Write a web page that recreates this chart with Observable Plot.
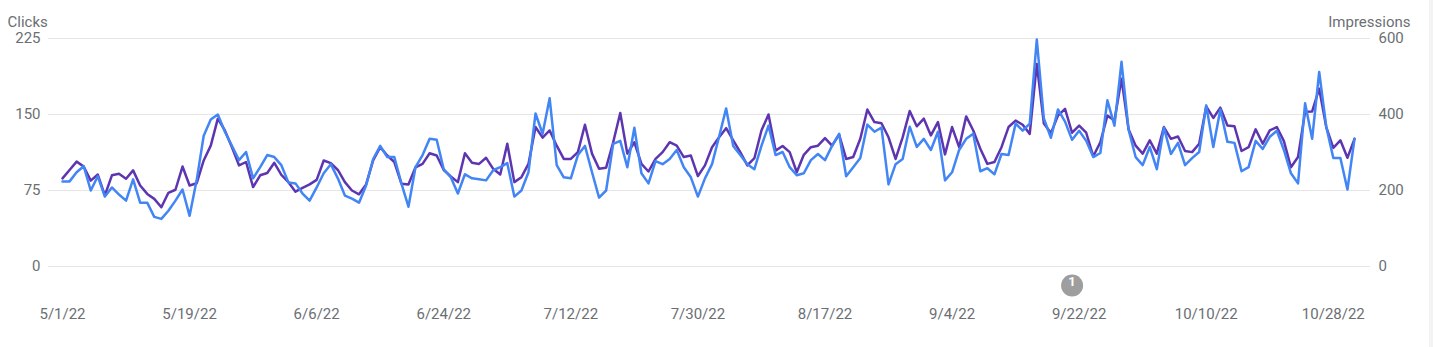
<!DOCTYPE html>
<html><head><meta charset="utf-8">
<script src="https://cdn.jsdelivr.net/npm/d3@7"></script>
<script src="https://cdn.jsdelivr.net/npm/@observablehq/plot@0.6"></script>
<style>
body{margin:0;background:#fff;font-family:Roboto,sans-serif;}
#chart{position:relative;width:1433px;height:347px;overflow:hidden;}
#edge{position:absolute;left:1429px;top:0;width:4px;height:347px;background:#f3f3f3;}
</style></head><body><div id="chart"><div id="edge"></div></div>
<script>
const startDate = "2022-05-01";
const endDate = "2022-10-31";
const clicks = [84,84,93,99,75,89,69,78,71,65,86,63,63,49,47,55,65,76,50,85,
129,145,150,133,119,105,113,87,98,110,108,100,83,82,72,65,78,92,101,87,
70,67,63,80,106,119,108,108,82,59,98,110,126,125,96,88,72,91,87,86,
85,95,98,102,69,75,93,151,131,166,100,88,87,110,119,93,68,75,121,124,
98,137,92,82,104,101,106,115,98,88,69,87,101,128,156,119,110,101,96,119,
139,110,113,98,90,92,105,111,105,119,131,89,98,107,140,133,137,81,101,106,
138,118,126,115,133,85,93,115,126,131,94,97,91,111,110,141,134,141,224,146,
127,155,143,125,134,124,108,112,164,139,202,135,108,100,118,96,137,111,122,100,
107,113,159,118,155,123,122,94,98,124,116,128,134,115,92,82,161,126,192,138,
107,107,76,126];
const impressions = [232,254,276,263,226,242,187,240,244,231,253,213,191,178,156,194,202,263,213,219,
279,318,389,358,314,266,275,209,240,246,273,241,222,197,207,216,228,279,272,254,
222,200,190,216,279,314,292,275,218,216,261,270,298,292,254,237,222,298,273,270,
286,257,242,323,222,235,270,367,339,358,318,283,283,301,373,297,257,260,327,404,
297,327,270,250,283,301,327,318,288,292,238,266,314,340,364,332,301,266,285,358,
400,305,317,301,248,294,314,318,338,318,347,283,288,336,413,380,377,340,283,340,
409,369,389,345,380,295,367,314,395,358,310,270,275,314,367,384,373,349,533,376,
351,397,415,352,371,352,290,327,397,384,494,361,318,297,332,297,367,336,342,304,
301,323,421,391,418,371,369,304,314,361,323,358,367,330,261,288,407,408,468,367,
312,332,286,336];
const xTickLabels = ["5/1/22","5/19/22","6/6/22","6/24/22","7/12/22","7/30/22","8/17/22","9/4/22","9/22/22","10/10/22","10/28/22"];
const leftTicks = [0,75,150,225];
const rightTicks = [0,200,400,600];
const annotations = [{date:"2022-09-21", label:"1"}];
const leftTitle = "Clicks";
const rightTitle = "Impressions";

const dates = d3.utcDay.range(new Date(startDate), d3.utcDay.offset(new Date(endDate), 1));
const data = dates.map((date, i) => ({date, clicks: clicks[i], impressions: impressions[i]}));
const ratio = leftTicks[leftTicks.length-1] / rightTicks[rightTicks.length-1];
const parseTick = s => { const [m, d, y] = s.split("/").map(Number); return new Date(Date.UTC(2000 + y, m - 1, d)); };
const tickDates = xTickLabels.map(parseTick);
const tickMap = new Map(tickDates.map((d, i) => [+d, xTickLabels[i]]));

const plot = Plot.plot({
  width: 1433, height: 347,
  marginTop: 38, marginBottom: 81, marginLeft: 48, marginRight: 63,
  insetLeft: 14, insetRight: 16,
  x: {type: "utc", domain: [dates[0], dates[dates.length - 1]]},
  y: {domain: [0, 225]},
  style: {fontFamily: "Roboto, sans-serif", fontSize: "15px", color: "#6b6f73", background: "transparent", overflow: "visible"},
  marks: [
    Plot.gridY(leftTicks, {stroke: "#e6e6e6", strokeOpacity: 1, strokeWidth: 1}),
    Plot.axisY({ticks: leftTicks, anchor: "left", tickSize: 0, tickPadding: 8, label: null}),
    Plot.axisY({ticks: leftTicks, anchor: "right", tickSize: 0, tickPadding: 8, label: null,
      tickFormat: d => String(rightTicks[leftTicks.indexOf(d)])}),
    Plot.axisX({ticks: tickDates, tickFormat: d => tickMap.get(+d), tickSize: 0, tickPadding: 42, label: null}),
    Plot.lineY(data, {x: "date", y: d => d.impressions * ratio, stroke: "#5e35b1", strokeWidth: 2.5}),
    Plot.lineY(data, {x: "date", y: "clicks", stroke: "#4285f4", strokeWidth: 2.5}),
    Plot.dot(annotations, {x: d => new Date(d.date), frameAnchor: "bottom", dy: 19, r: 11, fill: "#9e9e9e", stroke: null}),
    Plot.text(annotations, {x: d => new Date(d.date), text: "label", frameAnchor: "bottom", dy: 19, fill: "white", fontWeight: "bold", fontSize: 13}),
    Plot.text([leftTitle], {frameAnchor: "top-left", textAnchor: "start", dx: -41, dy: -22, fill: "#6b6f73", fontSize: 15}),
    Plot.text([rightTitle], {frameAnchor: "top-right", textAnchor: "end", dx: 40, dy: -22, fill: "#6b6f73", fontSize: 15})
  ]
});
document.getElementById("chart").appendChild(plot);
</script>
</body></html>
